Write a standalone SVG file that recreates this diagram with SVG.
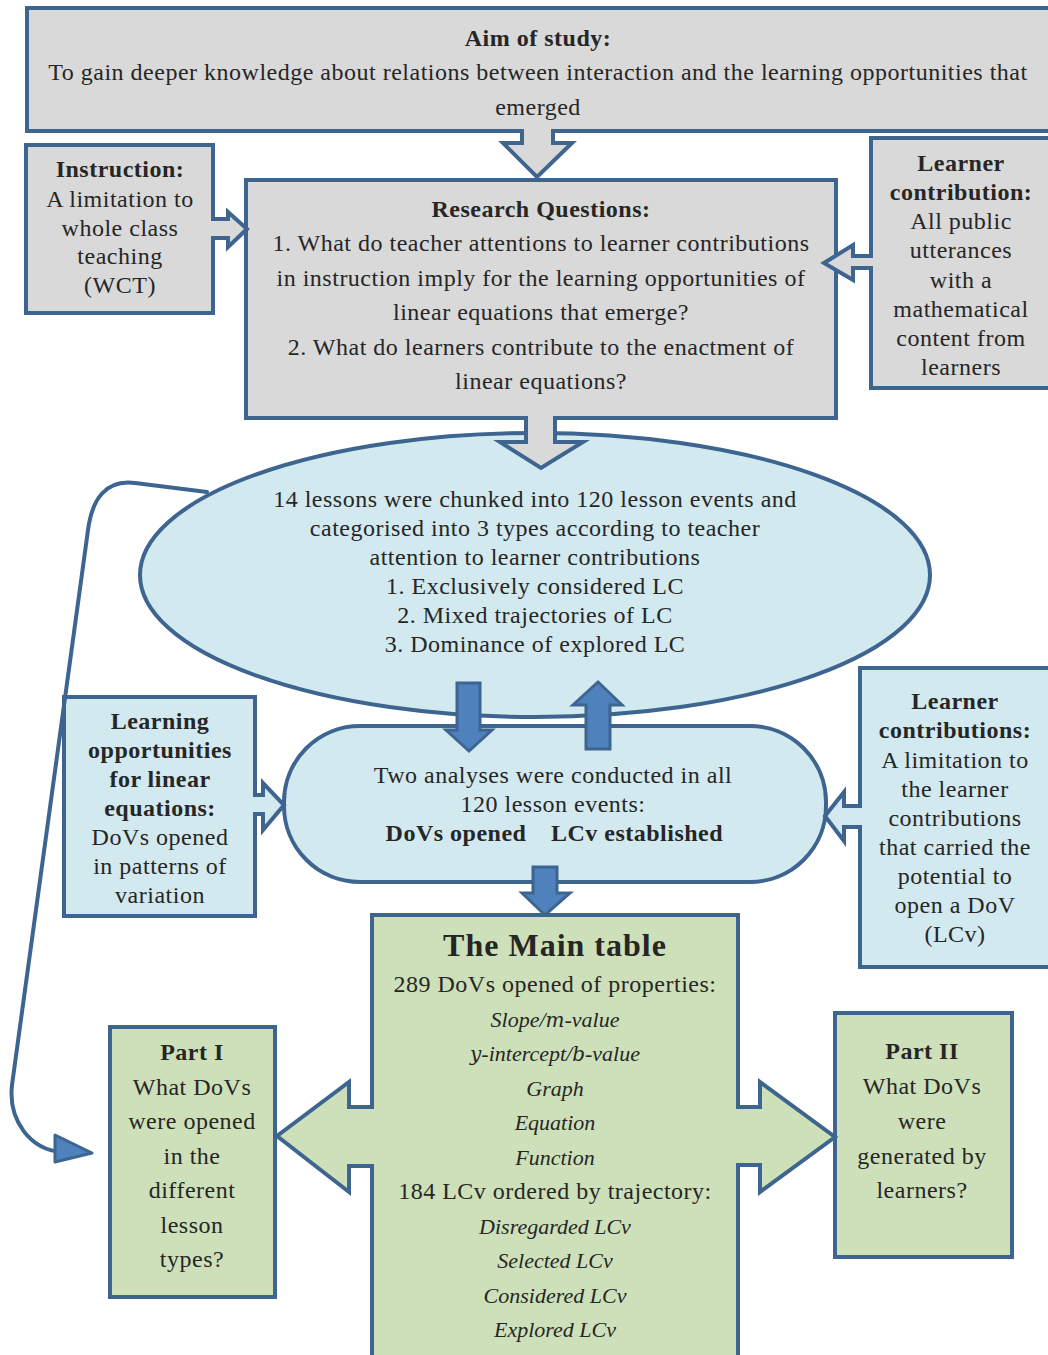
<svg xmlns="http://www.w3.org/2000/svg" width="1048" height="1355" viewBox="0 0 1048 1355" font-family="Liberation Serif, Times New Roman, serif">
<defs>
<style>
.box{stroke:#3d6590;stroke-width:4;}
.gray{fill:#d9d9d9;}
.aqua{fill:#d2e9ef;}
.green{fill:#cde0b9;}
.barrow{fill:#4f81bd;stroke:#3d6590;stroke-width:3;stroke-linejoin:miter;}
.garrow{stroke:#3d6590;stroke-width:4;stroke-linejoin:miter;}
text{font-size:24px;fill:#262626;text-anchor:middle;letter-spacing:0.5px;}
.b{font-weight:bold;}
.i{font-style:italic;font-size:22px;letter-spacing:0;}
.m{font-family:"DejaVu Serif",serif;font-style:italic;font-size:20px;}
.t{font-size:32px;letter-spacing:1px;}
</style>
</defs>

<g id="aim">
<rect class="box gray" x="27" y="8" width="1030" height="123"/>
<text class="b" x="538" y="46">Aim of study:</text>
<text x="538" y="80">To gain deeper knowledge about relations between interaction and the learning opportunities that</text>
<text x="538" y="115">emerged</text>
</g>

<g id="instruction">
<rect class="box gray" x="26" y="145" width="187" height="168"/>
<text class="b" x="120" y="177">Instruction:</text>
<text x="120" y="207">A limitation to</text>
<text x="120" y="236">whole class</text>
<text x="120" y="264">teaching</text>
<text x="120" y="293">(WCT)</text>
</g>

<g id="research">
<rect class="box gray" x="246" y="180" width="590" height="238"/>
<text class="b" x="541" y="217">Research Questions:</text>
<text x="541" y="251">1. What do teacher attentions to learner contributions</text>
<text x="541" y="286">in instruction imply for the learning opportunities of</text>
<text x="541" y="320">linear equations that emerge?</text>
<text x="541" y="355">2. What do learners contribute to the enactment of</text>
<text x="541" y="389">linear equations?</text>
</g>

<g id="learner-contribution">
<rect class="box gray" x="871" y="138" width="190" height="250"/>
<text class="b" x="961" y="171">Learner</text>
<text class="b" x="961" y="200">contribution:</text>
<text x="961" y="229">All public</text>
<text x="961" y="258">utterances</text>
<text x="961" y="288">with a</text>
<text x="961" y="317">mathematical</text>
<text x="961" y="346">content from</text>
<text x="961" y="375">learners</text>
</g>

<g id="lessons">
<ellipse class="box aqua" cx="535" cy="575" rx="395" ry="142"/>
<text x="535" y="507">14 lessons were chunked into 120 lesson events and</text>
<text x="535" y="536">categorised into 3 types according to teacher</text>
<text x="535" y="565">attention to learner contributions</text>
<text x="535" y="594">1. Exclusively considered LC</text>
<text x="535" y="623">2. Mixed trajectories of LC</text>
<text x="535" y="652">3. Dominance of explored LC</text>
</g>

<g id="learning-opportunities">
<rect class="box aqua" x="64" y="697" width="191" height="219"/>
<text class="b" x="160" y="729">Learning</text>
<text class="b" x="160" y="758">opportunities</text>
<text class="b" x="160" y="787">for linear</text>
<text class="b" x="160" y="816">equations:</text>
<text x="160" y="845">DoVs opened</text>
<text x="160" y="874">in patterns of</text>
<text x="160" y="903">variation</text>
</g>

<g id="analyses">
<rect class="box aqua" x="284" y="726" width="542" height="156" rx="76" ry="76"/>
<text x="553" y="783">Two analyses were conducted in all</text>
<text x="553" y="812">120 lesson events:</text>
<text class="b" x="456" y="841">DoVs opened</text>
<text class="b" x="637" y="841">LCv established</text>
</g>

<g id="learner-contributions">
<rect class="box aqua" x="860" y="668" width="200" height="299"/>
<text class="b" x="955" y="709">Learner</text>
<text class="b" x="955" y="738">contributions:</text>
<text x="955" y="768">A limitation to</text>
<text x="955" y="797">the learner</text>
<text x="955" y="826">contributions</text>
<text x="955" y="855">that carried the</text>
<text x="955" y="884">potential to</text>
<text x="955" y="913">open a DoV</text>
<text x="955" y="942">(LCv)</text>
</g>

<g id="main-table">
<rect class="box green" x="372" y="915" width="366" height="460"/>
<text class="b t" x="555" y="956">The Main table</text>
<text x="555" y="992">289 DoVs opened of properties:</text>
<text class="i" x="555" y="1027">Slope/<tspan class="m">m</tspan>-value</text>
<text class="i" x="555" y="1061"><tspan class="m">y</tspan>-intercept/<tspan class="m">b</tspan>-value</text>
<text class="i" x="555" y="1096">Graph</text>
<text class="i" x="555" y="1130">Equation</text>
<text class="i" x="555" y="1165">Function</text>
<text x="555" y="1199">184 LCv ordered by trajectory:</text>
<text class="i" x="555" y="1234">Disregarded LCv</text>
<text class="i" x="555" y="1268">Selected LCv</text>
<text class="i" x="555" y="1303">Considered LCv</text>
<text class="i" x="555" y="1337">Explored LCv</text>
</g>

<g id="part-1">
<rect class="box green" x="110" y="1027" width="165" height="270"/>
<text class="b" x="192" y="1060">Part I</text>
<text x="192" y="1095">What DoVs</text>
<text x="192" y="1129">were opened</text>
<text x="192" y="1164">in the</text>
<text x="192" y="1198">different</text>
<text x="192" y="1233">lesson</text>
<text x="192" y="1267">types?</text>
</g>

<g id="part-2">
<rect class="box green" x="835" y="1013" width="177" height="244"/>
<text class="b" x="922" y="1059">Part II</text>
<text x="922" y="1094">What DoVs</text>
<text x="922" y="1129">were</text>
<text x="922" y="1164">generated by</text>
<text x="922" y="1198">learners?</text>
</g>

<g id="connectors">
<path class="garrow gray" d="M522,129 V143 H503 L537,177 L572,143 H553 V129"/>
<path class="garrow gray" d="M211,219 H228 V212 L247,229 L228,247 V238 H211"/>
<path class="garrow gray" d="M873,256 H853 V245 L824,263 L853,280 V268 H873"/>
<path class="garrow gray" d="M526,416 V442 H500 L541,468 L583,442 H555 V416"/>
<path class="garrow aqua" d="M253,795 H263 V783 L284,805 L263,830 V814 H253"/>
<path class="garrow aqua" d="M862,806 H844 V792 L825,816 L844,841 V827 H862"/>
<path class="barrow" d="M457,683 H480 V730 H492 L469,751 L446,730 H457 Z"/>
<path class="barrow" d="M586,749 V705 H573 L598,682 L622,705 H610 V749 Z"/>
<path class="barrow" d="M533,867 H557 V893 H570 L545,915 L522,893 H533 Z"/>
<path class="garrow green" d="M374,1107 H349 V1082 L277,1136 L349,1192 V1166 H374"/>
<path class="garrow green" d="M736,1107 H760 V1082 L835,1137 L760,1192 V1165 H736"/>
<path d="M207,492 L135,483 C105,479 92,500 88,530 L12,1085 C8,1120 30,1150 62,1152" fill="none" stroke="#3d6590" stroke-width="4" stroke-linecap="round"/>
<path d="M55,1135 L92,1153 L55,1162 Z" fill="#4f81bd" stroke="#3d6590" stroke-width="3" stroke-linejoin="round"/>
</g>
</svg>
